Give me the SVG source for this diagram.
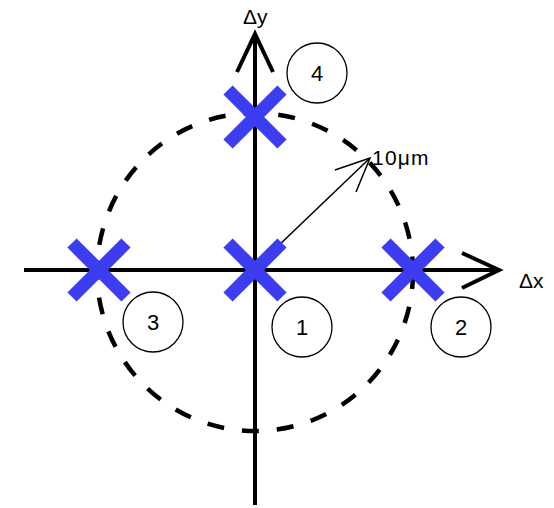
<svg xmlns="http://www.w3.org/2000/svg" width="554" height="508" viewBox="0 0 554 508">
<style>
.axis{stroke:#000;stroke-width:4;fill:none}
.dash{stroke:#000;stroke-width:4.5;fill:none;stroke-dasharray:17 18}
.x{stroke:#3c3cf0;stroke-width:13;stroke-linecap:butt}
.num{fill:#fff;stroke:#000;stroke-width:1.3}
text{font-family:"Liberation Sans",Arial,sans-serif;fill:#000}
.n{font-size:22px;text-anchor:middle}
</style>
<rect width="554" height="508" fill="#fff"/>
<g id="connectors">
<ellipse class="dash" cx="255" cy="272" rx="158" ry="159"/>
<line class="axis" x1="24" y1="270" x2="498" y2="270"/>
<polyline class="axis" points="462,253 499,270 462,288"/>
<line class="axis" x1="255" y1="505" x2="255" y2="35"/>
<polyline class="axis" points="237,72 255,34 273,72"/>
<line stroke="#000" stroke-width="1.5" x1="253" y1="270" x2="369" y2="159"/>
<polyline fill="none" stroke="#000" stroke-width="1.5" points="335,170 370,158 356,192"/>
</g>
<g id="mark1"><line class="x" x1="228" y1="243" x2="282" y2="297"/><line class="x" x1="282" y1="243" x2="228" y2="297"/></g>
<g id="mark2"><line class="x" x1="386" y1="243" x2="440" y2="297"/><line class="x" x1="440" y1="243" x2="386" y2="297"/></g>
<g id="mark3"><line class="x" x1="72" y1="243" x2="126" y2="297"/><line class="x" x1="126" y1="243" x2="72" y2="297"/></g>
<g id="mark4"><line class="x" x1="228" y1="90" x2="282" y2="144"/><line class="x" x1="282" y1="90" x2="228" y2="144"/></g>
<g id="label1"><circle class="num" cx="302" cy="327" r="30"/><text class="n" x="302" y="335">1</text></g>
<g id="label2"><circle class="num" cx="461" cy="327" r="30"/><text class="n" x="461" y="335">2</text></g>
<g id="label3"><circle class="num" cx="153" cy="322" r="30"/><text class="n" x="153" y="330">3</text></g>
<g id="label4"><circle class="num" cx="317" cy="73" r="30"/><text class="n" x="317" y="81">4</text></g>
<g id="dy"><text x="243" y="24" font-size="21">Δy</text></g>
<g id="dx"><text x="519" y="288" font-size="21">Δx</text></g>
<g id="scale"><text x="372" y="165" font-size="21" letter-spacing="1.2">10μm</text></g>
</svg>
